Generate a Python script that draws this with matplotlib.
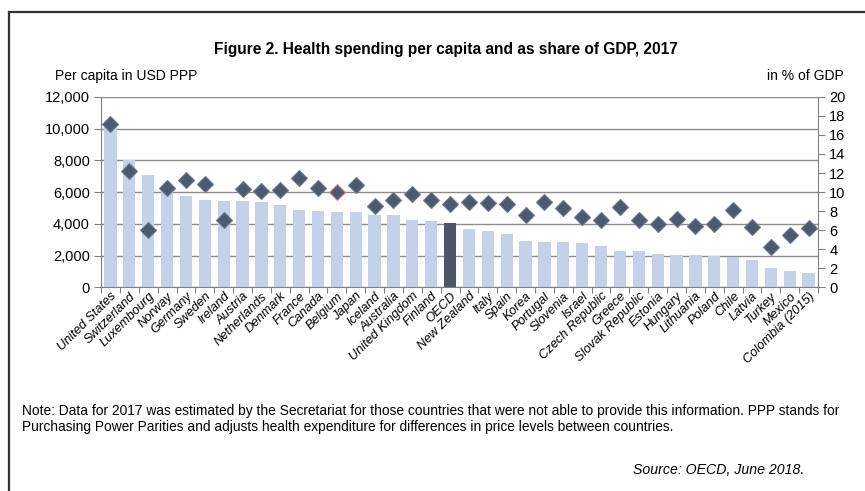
import numpy as np
import matplotlib
matplotlib.use('Agg')
import matplotlib.pyplot as plt
from matplotlib.lines import Line2D

plt.rcParams['font.family'] = ['Liberation Sans', 'DejaVu Sans']

countries = ['United States', 'Switzerland', 'Luxembourg', 'Norway', 'Germany', 'Sweden',
             'Ireland', 'Austria', 'Netherlands', 'Denmark', 'France', 'Canada', 'Belgium',
             'Japan', 'Iceland', 'Australia', 'United Kingdom', 'Finland', 'OECD',
             'New Zealand', 'Italy', 'Spain', 'Korea', 'Portugal', 'Slovenia', 'Israel',
             'Czech Republic', 'Greece', 'Slovak Republic', 'Estonia', 'Hungary',
             'Lithuania', 'Poland', 'Chile', 'Latvia', 'Turkey', 'Mexico', 'Colombia (2015)']

# per capita, USD PPP
per_capita = [10209, 8009, 7049, 6187, 5728, 5511, 5449, 5440, 5386, 5183, 4902, 4826,
              4774, 4717, 4580, 4543, 4246, 4173, 4069, 3683, 3542, 3370, 2897, 2861,
              2859, 2780, 2600, 2300, 2270, 2130, 2050, 2050, 2000, 1930, 1740, 1210,
              1050, 880]

# share of GDP, %
gdp_share = [17.1, 12.2, 6.0, 10.4, 11.3, 10.9, 7.1, 10.3, 10.1, 10.2, 11.5, 10.4,
             10.0, 10.7, 8.5, 9.2, 9.8, 9.2, 8.8, 9.0, 8.9, 8.8, 7.6, 9.0, 8.3, 7.4,
             7.1, 8.4, 7.1, 6.7, 7.2, 6.4, 6.7, 8.1, 6.3, 4.2, 5.5, 6.2]

highlight_bar = 'OECD'
highlight_marker = 'Belgium'

x = np.arange(len(countries))

fig = plt.figure(figsize=(8.65, 4.91), dpi=100)
ax = fig.add_axes([0.1168, 0.4145, 0.8289, 0.3885])
ax2 = ax.twinx()

bar_colors = ['#4b566b' if c == highlight_bar else '#c3d2e8' for c in countries]
ax.bar(x, per_capita, width=0.65, color=bar_colors, zorder=2)
ax.set_ylim(0, 12000)
ax.set_xlim(-0.5, len(countries) - 0.5)
ax.set_yticks(np.arange(0, 12001, 2000))
ax.set_yticklabels(['{:,}'.format(v) for v in range(0, 12001, 2000)])
ax.yaxis.grid(True, color='#8c8c8c', linewidth=1.0, zorder=0)
ax.set_axisbelow(True)

ax.set_xticks(np.arange(-0.5, len(countries), 1.0), minor=False)
ax.set_xticklabels([])
ax.set_xticks(x, minor=True)
ax.set_xticklabels(countries, minor=True, rotation=45, ha='right',
                   rotation_mode='anchor', style='italic', fontsize=9.3)
ax.tick_params(axis='x', which='minor', length=0, pad=2)
ax.tick_params(axis='x', which='major', length=4, color='#808080', direction='out')
ax.tick_params(axis='y', length=5, color='#808080', labelsize=10.5, pad=3)

for s in ['top', 'right']:
    ax.spines[s].set_visible(False)
for s in ['left', 'bottom']:
    ax.spines[s].set_color('#808080')

for i, v in enumerate(gdp_share):
    edge = '#e08080' if countries[i] == highlight_marker else '#6b7b90'
    ax2.plot(x[i], v, 'D', markersize=8, color='#4b5a6f', markeredgecolor=edge,
             markeredgewidth=0.8, zorder=3)
ax2.set_ylim(0, 20)
ax2.set_yticks(np.arange(0, 21, 2))
ax2.tick_params(axis='y', length=5, color='#808080', labelsize=10.5, pad=3)
for s in ['top', 'left', 'bottom']:
    ax2.spines[s].set_visible(False)
ax2.spines['right'].set_color('#808080')

fig.text(0.515, 0.900, 'Figure 2. Health spending per capita and as share of GDP, 2017',
         ha='center', va='center', fontsize=11.2, fontweight='bold')
fig.text(0.064, 0.845, 'Per capita in USD PPP', ha='left', va='center', fontsize=10)
fig.text(0.975, 0.845, 'in % of GDP', ha='right', va='center', fontsize=10)

fig.text(0.025, 0.163,
         'Note: Data for 2017 was estimated by the Secretariat for those countries that were not able to '
         'provide this information. PPP stands for', ha='left', va='center', fontsize=9.9)
fig.text(0.025, 0.130,
         'Purchasing Power Parities and adjusts health expenditure for differences in price levels '
         'between countries.', ha='left', va='center', fontsize=9.9)
fig.text(0.930, 0.043, 'Source: OECD, June 2018.', ha='right', va='center',
         fontsize=10.2, style='italic')

fig.add_artist(Line2D([0.0104, 1.0], [0.9756, 0.9756], color='#333333', linewidth=1.6,
                      transform=fig.transFigure))
fig.add_artist(Line2D([0.0104, 0.0104], [0.0, 0.9756], color='#333333', linewidth=1.6,
                      transform=fig.transFigure))

fig.savefig('out.png', dpi=100)
